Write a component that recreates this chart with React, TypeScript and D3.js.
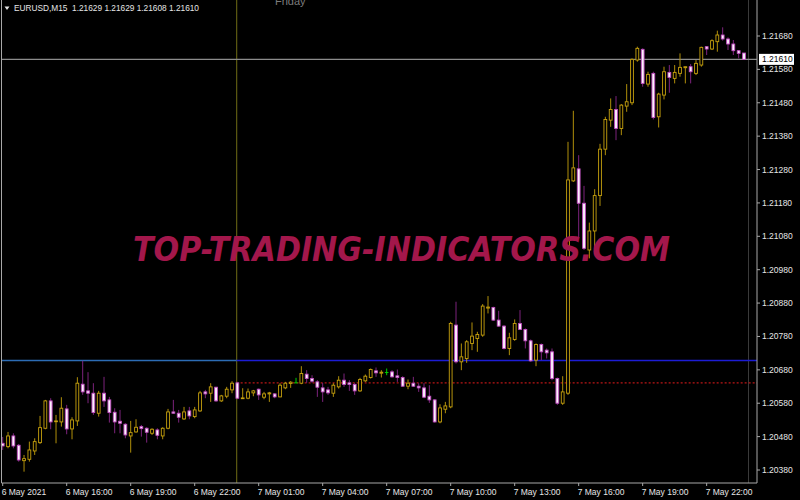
import React, { useEffect, useRef } from "react";
import * as d3 from "d3";

// EURUSD M15, 6 May 13:00 .. 7 May 23:45
const opens = [
  1.2046, 1.2045, 1.20482, 1.20454, 1.20408, 1.20412, 1.20437, 1.20462, 1.20505, 1.20587,
  1.20525, 1.20524, 1.20563, 1.20503, 1.20527, 1.20637, 1.20617, 1.2061, 1.2055, 1.2061,
  1.2059, 1.20553, 1.20526, 1.20517, 1.20482, 1.20494, 1.2051, 1.20505, 1.2049, 1.205,
  1.20482, 1.20505, 1.20554, 1.2055, 1.20533, 1.20557, 1.2054, 1.20557, 1.20614, 1.2061,
  1.20628, 1.20587, 1.20601, 1.2062, 1.20641, 1.20595, 1.20595, 1.20611, 1.20622, 1.20598,
  1.20608, 1.20608, 1.20599, 1.20626, 1.20639, 1.20641, 1.2064, 1.20667, 1.20654, 1.20644,
  1.20626, 1.2062, 1.2061, 1.20629, 1.20649, 1.20641, 1.20636, 1.20617, 1.20647, 1.20657,
  1.20677, 1.2067, 1.20672, 1.20674, 1.20662, 1.20657, 1.20631, 1.2064, 1.20631, 1.20626,
  1.20601, 1.2059, 1.20524, 1.20562, 1.20569, 1.20814, 1.20704, 1.20714, 1.20759, 1.20774,
  1.20784, 1.20865, 1.20867, 1.20829, 1.20811, 1.20744, 1.20771, 1.20819, 1.20801, 1.20767,
  1.20709, 1.20756, 1.20739, 1.20734, 1.20654, 1.2058, 1.2061, 1.21246, 1.21282, 1.21179,
  1.21039, 1.21096, 1.21202, 1.21341, 1.21428, 1.2146, 1.21403, 1.2147, 1.2148, 1.21608,
  1.2164, 1.21536, 1.21568, 1.21438, 1.21503, 1.21571, 1.21553, 1.21568, 1.21585, 1.21588,
  1.21568, 1.21593, 1.21648, 1.21641, 1.21663, 1.21683, 1.21671, 1.21656, 1.21636, 1.21629,
]
const highs = [
  1.20479, 1.20494, 1.2049, 1.20458, 1.20425, 1.20465, 1.20475, 1.20542, 1.2059, 1.20595,
  1.20545, 1.20598, 1.20575, 1.20538, 1.20658, 1.20707, 1.20673, 1.2064, 1.20617, 1.20659,
  1.20599, 1.20565, 1.2056, 1.2052, 1.20527, 1.20532, 1.20515, 1.20508, 1.20505, 1.20505,
  1.20508, 1.20563, 1.2059, 1.2056, 1.20569, 1.20569, 1.20569, 1.20617, 1.2062, 1.2064,
  1.20629, 1.20605, 1.20629, 1.20646, 1.20644, 1.20625, 1.20624, 1.2062, 1.20624, 1.20614,
  1.20614, 1.2061, 1.2064, 1.20644, 1.20646, 1.20656, 1.20691, 1.20679, 1.20664, 1.20649,
  1.20641, 1.20629, 1.2064, 1.20661, 1.20669, 1.20649, 1.20641, 1.20656, 1.20666, 1.20684,
  1.20687, 1.20679, 1.20684, 1.20679, 1.20681, 1.20661, 1.20651, 1.20659, 1.2064, 1.2064,
  1.20634, 1.20592, 1.20577, 1.20584, 1.20824, 1.20884, 1.20759, 1.20769, 1.20822, 1.20794,
  1.20877, 1.20901, 1.20869, 1.20857, 1.20814, 1.20791, 1.20831, 1.20859, 1.20804, 1.20771,
  1.20759, 1.20759, 1.20744, 1.20744, 1.20657, 1.20661, 1.21363, 1.21456, 1.21323, 1.21231,
  1.21121, 1.21221, 1.21357, 1.21438, 1.21493, 1.215, 1.21476, 1.21536, 1.21613, 1.21648,
  1.21643, 1.21573, 1.21573, 1.2151, 1.21588, 1.21593, 1.21593, 1.21628, 1.21588, 1.21596,
  1.21608, 1.21648, 1.2165, 1.2167, 1.21696, 1.21706, 1.21676, 1.21668, 1.21638, 1.21629,
]
const lows = [
  1.2044, 1.20445, 1.20445, 1.20405, 1.20375, 1.20405, 1.20425, 1.20458, 1.20502, 1.20502,
  1.2046, 1.2051, 1.20487, 1.20472, 1.20512, 1.20605, 1.2058, 1.20545, 1.2054, 1.20569,
  1.20522, 1.2049, 1.2049, 1.20475, 1.20432, 1.20492, 1.2048, 1.20462, 1.20485, 1.20472,
  1.20472, 1.20502, 1.20548, 1.20522, 1.2053, 1.20532, 1.20535, 1.20554, 1.20595, 1.20584,
  1.20584, 1.20584, 1.20595, 1.2061, 1.20592, 1.20594, 1.20592, 1.20601, 1.2059, 1.20592,
  1.20584, 1.20595, 1.20598, 1.20622, 1.20626, 1.2064, 1.20637, 1.20641, 1.20641, 1.20599,
  1.20584, 1.20605, 1.20599, 1.20624, 1.20629, 1.20617, 1.20605, 1.20614, 1.20644, 1.20654,
  1.20659, 1.20657, 1.20664, 1.20657, 1.20644, 1.20629, 1.20622, 1.20629, 1.20614, 1.20595,
  1.20581, 1.20522, 1.2052, 1.2055, 1.20565, 1.20699, 1.20679, 1.20701, 1.20739, 1.20734,
  1.20779, 1.20849, 1.20827, 1.20809, 1.20741, 1.20724, 1.20767, 1.20799, 1.20744, 1.20704,
  1.20691, 1.20709, 1.20714, 1.20649, 1.20575, 1.20575, 1.20605, 1.21243, 1.21074, 1.21039,
  1.21014, 1.21044, 1.21171, 1.21323, 1.21408, 1.21368, 1.21383, 1.21453, 1.21473, 1.21603,
  1.21528, 1.21528, 1.2143, 1.21406, 1.2149, 1.2151, 1.21538, 1.21558, 1.21538, 1.21538,
  1.21563, 1.21588, 1.21623, 1.21638, 1.21633, 1.21666, 1.21638, 1.21623, 1.21613, 1.21608,
]
const closes = [
  1.20452, 1.20482, 1.20452, 1.2041, 1.20414, 1.2044, 1.20465, 1.20507, 1.20587, 1.20524,
  1.20527, 1.20565, 1.20503, 1.2053, 1.2064, 1.20614, 1.2061, 1.20552, 1.2061, 1.20587,
  1.20552, 1.20524, 1.2052, 1.20485, 1.20492, 1.20508, 1.20504, 1.20493, 1.20502, 1.20484,
  1.20505, 1.20554, 1.2055, 1.20538, 1.20554, 1.20542, 1.2056, 1.20611, 1.20608, 1.20629,
  1.20587, 1.20602, 1.20622, 1.2064, 1.20595, 1.20596, 1.20614, 1.20617, 1.20605, 1.20608,
  1.20611, 1.20599, 1.20634, 1.2064, 1.20643, 1.20641, 1.20669, 1.20654, 1.20646, 1.20628,
  1.20614, 1.20611, 1.20634, 1.20649, 1.20636, 1.20636, 1.20617, 1.20651, 1.20661, 1.20681,
  1.20671, 1.20673, 1.20672, 1.20659, 1.20657, 1.20631, 1.2064, 1.20631, 1.20626, 1.20598,
  1.2059, 1.20524, 1.20566, 1.20572, 1.20819, 1.20704, 1.20719, 1.20764, 1.20781, 1.20786,
  1.20871, 1.20868, 1.20829, 1.20811, 1.20744, 1.20776, 1.20819, 1.20801, 1.20767, 1.20707,
  1.20756, 1.20734, 1.20731, 1.20654, 1.2058, 1.20614, 1.21249, 1.21285, 1.21179, 1.21044,
  1.21096, 1.21202, 1.21341, 1.2143, 1.2146, 1.21403, 1.21473, 1.21483, 1.2161, 1.21643,
  1.21538, 1.21565, 1.21436, 1.21506, 1.21573, 1.21556, 1.21571, 1.21586, 1.21588, 1.21573,
  1.21598, 1.21646, 1.21641, 1.21666, 1.21683, 1.21671, 1.21656, 1.21636, 1.21628, 1.2161,
]

const priceTicks = [
  1.2168, 1.2158, 1.2148, 1.2138, 1.2128, 1.2118, 1.2108,
  1.2098, 1.2088, 1.2078, 1.2068, 1.2058, 1.2048, 1.2038,
]
const timeTickLabels = [
  "6 May 2021", "6 May 16:00", "6 May 19:00", "6 May 22:00", "7 May 01:00", "7 May 04:00",
  "7 May 07:00", "7 May 10:00", "7 May 13:00", "7 May 16:00", "7 May 19:00", "7 May 22:00",
]
const symbolLabel = "EURUSD,M15"
const dayLabel = "Friday"
const watermark = "TOP-TRADING-INDICATORS.COM"
const prevHighLevel = 1.20708
const dayOpenLevel = 1.20641

const App = () => {
  const chart = useRef<SVGSVGElement>(null)

  useEffect(() => {
    const svg = d3.select(chart.current)
    svg.selectAll('*').remove()

    const frame = { left: 1.5, right: 757, bottom: 483 }
    const font = '"Liberation Sans", Arial, sans-serif'
    const fmt = d3.format('.5f')

    const times = d3.utcMinute.every(15)!.range(
      new Date(Date.UTC(2021, 4, 6, 13)), new Date(Date.UTC(2021, 4, 8)))
    const bars = times.map((t, i) => ({ t, o: opens[i], h: highs[i], l: lows[i], c: closes[i] }))

    const x = d3.scaleTime()
      .domain([times[0], times[times.length - 1]])
      .range([2.7, 744])

    const y = d3.scaleLinear()
      .domain([1.2038, 1.2168])
      .range([470, 36])

    svg.append('rect').attr('width', 800).attr('height', 500).attr('fill', '#000')

    // day separator
    const sepX = x(new Date(Date.UTC(2021, 4, 7))) - 0.7
    svg.append('line')
      .attr('x1', sepX).attr('x2', sepX).attr('y1', 0).attr('y2', frame.bottom)
      .attr('stroke', '#5e5c12').attr('stroke-width', 1.2)

    // chart end marker
    svg.append('line')
      .attr('x1', 748.5).attr('x2', 748.5).attr('y1', 0).attr('y2', frame.bottom)
      .attr('stroke', '#3a3a3a').attr('stroke-width', 1)

    // levels
    svg.append('line')
      .attr('x1', frame.left).attr('x2', sepX).attr('y1', y(prevHighLevel)).attr('y2', y(prevHighLevel))
      .attr('stroke', '#2c6cb4').attr('stroke-width', 1.3)
    svg.append('line')
      .attr('x1', sepX).attr('x2', frame.right).attr('y1', y(prevHighLevel)).attr('y2', y(prevHighLevel))
      .attr('stroke', '#1c1cd4').attr('stroke-width', 1.3)
    svg.append('line')
      .attr('x1', sepX).attr('x2', frame.right).attr('y1', y(dayOpenLevel)).attr('y2', y(dayOpenLevel))
      .attr('stroke', '#b81616').attr('stroke-width', 1.3).attr('stroke-dasharray', '2,2')

    // bid line
    const last = bars[bars.length - 1]
    svg.append('line')
      .attr('x1', frame.left).attr('x2', frame.right).attr('y1', y(last.c)).attr('y2', y(last.c))
      .attr('stroke', '#8c8c8c').attr('stroke-width', 1.2)

    // candles
    const g = svg.append('g')
    const candle = g.selectAll('g').data(bars).join('g')

    candle.append('line')
      .attr('x1', d => x(d.t)).attr('x2', d => x(d.t))
      .attr('y1', d => y(d.h)).attr('y2', d => y(d.l))
      .attr('stroke', d => d.o === d.c ? '#00d000' : d.c > d.o ? '#b08f0a' : '#7d237d')
      .attr('stroke-width', 1)

    candle.filter(d => d.o !== d.c).append('rect')
      .attr('x', d => x(d.t) - 1.4)
      .attr('width', 2.8)
      .attr('y', d => y(Math.max(d.o, d.c)))
      .attr('height', d => Math.max(0.8, Math.abs(y(d.o) - y(d.c))))
      .attr('fill', d => d.c > d.o ? '#000' : '#fbf0fb')
      .attr('stroke', d => d.c > d.o ? '#c8a20e' : '#c04cc0')
      .attr('stroke-width', 0.9)

    candle.filter(d => d.o === d.c).append('line')
      .attr('x1', d => x(d.t) - 1.8).attr('x2', d => x(d.t) + 1.8)
      .attr('y1', d => y(d.o)).attr('y2', d => y(d.o))
      .attr('stroke', '#00d000').attr('stroke-width', 1)

    // watermark
    svg.append('text')
      .attr('x', 133).attr('y', 261)
      .attr('textLength', 537).attr('lengthAdjust', 'spacingAndGlyphs')
      .attr('font-family', '"DejaVu Sans", sans-serif')
      .attr('font-size', 33).attr('font-weight', 'bold').attr('font-style', 'italic')
      .attr('fill', '#a3174b')
      .text(watermark)

    // frame
    svg.append('path')
      .attr('d', `M${frame.left},0V${frame.bottom}H${frame.right}V0`)
      .attr('fill', 'none').attr('stroke', '#a8a8a8').attr('stroke-width', 1)

    // right price axis
    const yAxis = svg.append('g')
    yAxis.selectAll('line').data(priceTicks).join('line')
      .attr('x1', frame.right).attr('x2', frame.right + 3)
      .attr('y1', d => y(d)).attr('y2', d => y(d))
      .attr('stroke', '#a8a8a8')
    yAxis.selectAll('text').data(priceTicks).join('text')
      .attr('x', 762).attr('y', d => y(d) + 3)
      .attr('font-family', font).attr('font-size', 8.5).attr('fill', '#e6e6e6')
      .text(d => fmt(d))

    svg.append('rect')
      .attr('x', 759).attr('y', y(last.c) - 5.5).attr('width', 35).attr('height', 11)
      .attr('fill', '#fff')
    svg.append('text')
      .attr('x', 762).attr('y', y(last.c) + 3)
      .attr('font-family', font).attr('font-size', 8.5).attr('fill', '#000')
      .text(fmt(last.c))

    // bottom time axis
    const tickTimes = times.filter((d, i) => i % 12 === 0)
    const xAxis = svg.append('g')
    xAxis.selectAll('line').data(tickTimes).join('line')
      .attr('x1', d => x(d)).attr('x2', d => x(d))
      .attr('y1', frame.bottom).attr('y2', frame.bottom + 3)
      .attr('stroke', '#a8a8a8')
    xAxis.selectAll('text').data(tickTimes).join('text')
      .attr('x', d => x(d) - 1).attr('y', 495)
      .attr('font-family', font).attr('font-size', 8.5).attr('fill', '#e6e6e6')
      .text((d, i) => timeTickLabels[i])

    // header
    svg.append('path').attr('d', 'M4.5,6.5h5l-2.5,3.5z').attr('fill', '#e6e6e6')
    svg.append('text')
      .attr('x', 14).attr('y', 11)
      .attr('font-family', font).attr('font-size', 8.3).attr('fill', '#e6e6e6')
      .style('white-space', 'pre')
      .text(`${symbolLabel}  ${[last.o, last.h, last.l, last.c].map(fmt).join(' ')}`)

    svg.append('text')
      .attr('x', 275).attr('y', 5)
      .attr('font-family', font).attr('font-size', 11).attr('fill', '#7c7c7c')
      .text(dayLabel)
  }, [])

  return (
    <svg ref={chart} width={800} height={500}
      style={{ position: 'absolute', left: 0, top: 0, display: 'block' }} />
  )
}

export default App
